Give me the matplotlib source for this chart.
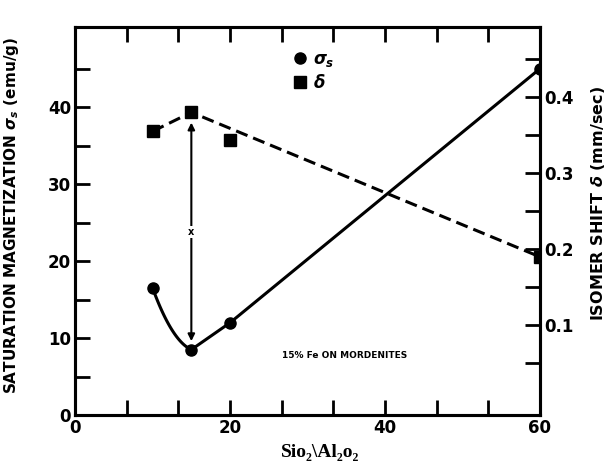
import numpy as np
import matplotlib
matplotlib.use("Agg")
import matplotlib.pyplot as plt
from matplotlib.lines import Line2D

# data
ratio = [10, 15, 20, 60]                 # SiO2/Al2O3 ratio
sigma_s = [16.5, 8.5, 12.0, 45.0]        # saturation magnetization (emu/g)
delta = [0.355, 0.38, 0.343, 0.19]       # isomer shift (mm/sec)
delta_line_idx = [0, 1, 3]               # dashed trend skips the x=20 point
arrow_x = 15
arrow_top, arrow_bottom = 38.0, 9.6      # double arrow span (left axis units)

x_ticks = np.arange(0, 61, 20 / 3)
x_labels = [0, 20, 40, 60]
left_major = [0, 10, 20, 30, 40]
right_labels = [0.1, 0.2, 0.3, 0.4]

plt.rcParams['font.family'] = ['DejaVu Sans']
plt.rcParams['font.weight'] = 'bold'

fig = plt.figure(figsize=(6.06, 4.76), dpi=100)
ax = fig.add_axes([0.124, 0.128, 0.767, 0.815])
ax2 = ax.twinx()

lw = 2.2
for a in (ax, ax2):
    for s in a.spines.values():
        s.set_linewidth(lw)

# sigma_s: quadratic through the first three points for the dip, then straight
c = np.polyfit(ratio[:3], sigma_s[:3], 2)
xc = np.linspace(ratio[0], ratio[1], 40)
ax.plot(xc, np.polyval(c, xc), color='k', lw=lw)
ax.plot(ratio[1:], sigma_s[1:], color='k', lw=lw)
ax.plot(ratio, sigma_s, 'o', color='k', ms=8, zorder=5)

# delta: dashed trend and square markers
ax2.plot([ratio[i] for i in delta_line_idx], [delta[i] for i in delta_line_idx],
         color='k', lw=lw, dashes=(4, 2))
ax2.plot(ratio, delta, 's', color='k', ms=9, zorder=5)

# double arrow at the minimum
ax.annotate('', xy=(arrow_x, arrow_top), xytext=(arrow_x, arrow_bottom),
            arrowprops=dict(arrowstyle='<|-|>', color='k', lw=1.5,
                            mutation_scale=10, shrinkA=0, shrinkB=0))
ax.text(arrow_x, (arrow_top + arrow_bottom) / 2, 'x', ha='center', va='center',
        fontsize=7, fontweight='bold',
        bbox=dict(facecolor='white', edgecolor='none', pad=0.5))

ax.text(34.8, 7.8, '15% Fe ON MORDENITES', ha='center', va='center',
        fontsize=6.5, fontweight='bold')

# axes limits and ticks
ax.set_xlim(0, 60)
ax.set_ylim(0, 50.4)
ax2.set_ylim(-0.018, 0.492)

ax.set_xticks(x_ticks)
ax.set_xticklabels([str(int(round(v))) if int(round(v)) in x_labels and abs(v - round(v)) < 1e-6 else ''
                    for v in x_ticks])
ax.set_yticks(left_major)
ax.set_yticks(np.arange(5, 50, 10), minor=True)
ax2.set_yticks(np.arange(0.05, 0.49, 0.05))
ax2.set_yticklabels(['%.1f' % v if np.any(np.isclose(v, right_labels)) else ''
                     for v in np.arange(0.05, 0.49, 0.05)])

ax.tick_params(axis='both', which='both', direction='in', length=11, width=2,
               labelsize=12, top=True, pad=3)
ax.tick_params(axis='y', which='minor', length=11, width=2)
ax2.tick_params(axis='y', direction='in', length=11, width=2, labelsize=12, pad=3)

for lab in ax.get_xticklabels() + ax.get_yticklabels() + ax2.get_yticklabels():
    lab.set_fontweight('bold')

ax.set_ylabel('SATURATION MAGNETIZATION $\\sigma_s$ (emu/g)', fontsize=11,
              fontweight='bold')
ax.yaxis.set_label_coords(-0.116, 0.515)
ax2.set_ylabel('ISOMER SHIFT $\\delta$ (mm/sec)', fontsize=11.5,
               fontweight='bold')
ax2.yaxis.set_label_coords(1.105, 0.545)

# legend
handles = [Line2D([], [], marker='o', color='k', ls='none', ms=8),
           Line2D([], [], marker='s', color='k', ls='none', ms=8)]
ax.legend(handles, ['$\\sigma_s$', '$\\delta$'], loc='upper left',
          bbox_to_anchor=(0.43, 0.98), frameon=False, fontsize=12,
          handletextpad=0.2, labelspacing=0.3, handlelength=1.2)

fig.text(0.528, 0.05, 'Sio\u2082\\Al\u2082o\u2082', ha='center', va='center',
         fontsize=14, fontweight='bold',
         family=['Liberation Serif', 'DejaVu Serif'])

fig.savefig('out.png', dpi=100)
